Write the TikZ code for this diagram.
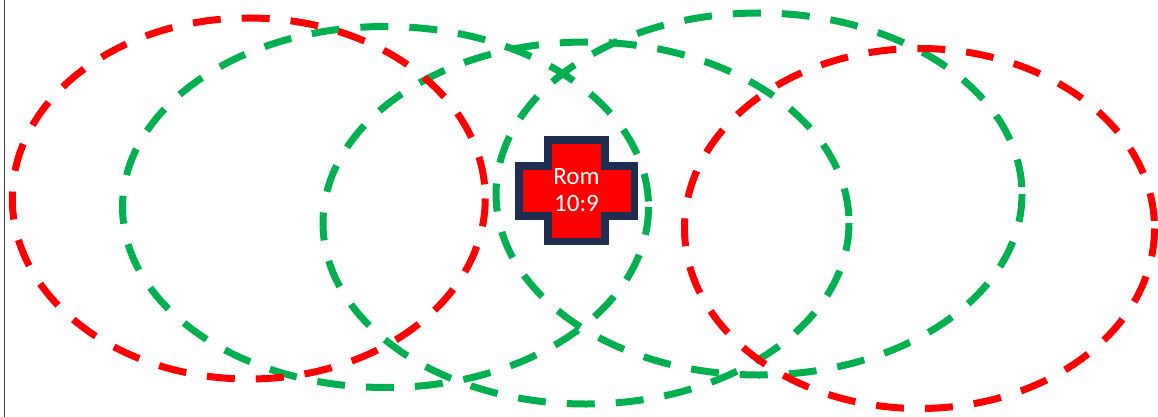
\documentclass[tikz,border=0pt]{standalone}
\usepackage{fontspec}
\setmainfont{Carlito}
\definecolor{pgreen}{HTML}{00B050}
\definecolor{pred}{HTML}{FF0000}
\definecolor{navy}{HTML}{1F2D50}
\begin{document}
\begin{tikzpicture}[x=1pt,y=-1pt,
  ring/.style={line width=7pt, dash pattern=on 28pt off 21pt},
  crossbox/.style={fill=pred, draw=navy, line width=7.5pt, miter limit=10}]
\useasboundingbox (0,0) rectangle (1158,417);
\fill[white] (0,0) rectangle (1158,417);
\coordinate (bt) at (4.5,0);
\coordinate (bb) at (4.5,417);
\draw[black!75, line width=1.6pt] (bt) -- (bb);
% green rings
\draw[ring, pgreen] (385.5,207) ellipse [x radius=263, y radius=180.5];
\draw[ring, pgreen] (586,223) ellipse [x radius=263, y radius=181];
\draw[ring, pgreen] (759,194) ellipse [x radius=263, y radius=181];
% red rings
\draw[ring, pred] (248.75,198.5) ellipse [x radius=236.5, y radius=180.5];
\draw[ring, pred] (919.5,228.5) ellipse [x radius=235, y radius=180];
% cross
\filldraw[crossbox] (548,140) -- (605,140) -- (605,166) -- (634.5,166) -- (634.5,216)
  -- (605,216) -- (605,241.7) -- (548,241.7) -- (548,216) -- (519,216)
  -- (519,166) -- (548,166) -- cycle;
\node[text=white, align=center, font=\fontsize{25}{27}\selectfont, inner sep=0pt] (rom) at (576.5,190.5) {Rom\\10:9};
\end{tikzpicture}
\end{document}
